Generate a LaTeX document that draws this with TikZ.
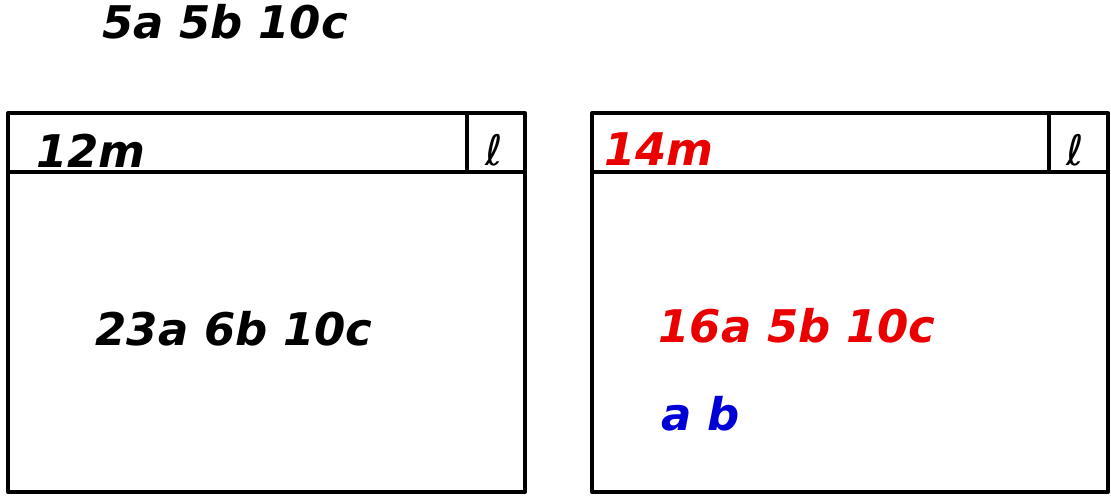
\documentclass[tikz,border=0pt]{standalone}
\usepackage{fontspec}
\setmainfont{DejaVu Sans}
\usepackage{tikz}
\definecolor{redink}{RGB}{235,0,0}
\definecolor{blueink}{RGB}{0,0,215}

\begin{document}
\begin{tikzpicture}[x=1pt,y=-1pt,
   every node/.style={inner sep=0pt},
   lbl/.style={anchor=base,font=\fontsize{45}{50}\selectfont\bfseries\itshape},
   ell/.style={anchor=base,font=\fontsize{42}{48}\selectfont\itshape},
   frame/.style={draw,line width=4pt,line join=round}]
\useasboundingbox (0,0) rectangle (1111,496);
% left store
\draw[frame] (8,113) rectangle (525,492);
\draw[frame] (8,172) -- (525,172);
\draw[frame] (467,113) -- (467,172);
% right store
\draw[frame] (592,113) rectangle (1108,492);
\draw[frame] (592,172) -- (1108,172);
\draw[frame] (1049,113) -- (1049,172);
% labels
\node[lbl] (stock) at (225,38) {5a 5b 10c};
\node[lbl] (leftm) at (91,167) {12m};
\node[ell] (leftl) at (494,165) {ℓ};
\node[lbl] (leftin) at (234,345) {23a 6b 10c};
\node[lbl,text=redink] (rightm) at (659,165) {14m};
\node[ell] (rightl) at (1075,165) {ℓ};
\node[lbl,text=redink] (rightin) at (797,342) {16a 5b 10c};
\node[lbl,text=blueink] (rightab) at (701,430) {a b};
\end{tikzpicture}
\end{document}
